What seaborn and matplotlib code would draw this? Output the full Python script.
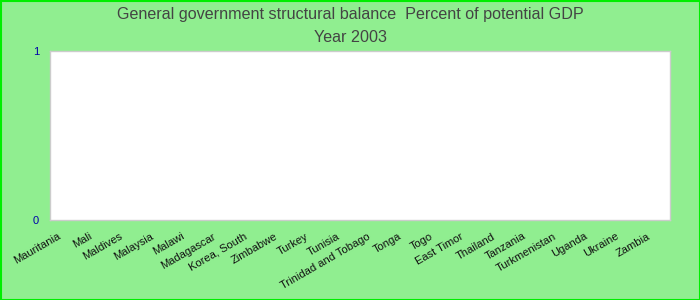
import matplotlib
matplotlib.use("Agg")
import matplotlib.pyplot as plt
import matplotlib.transforms as mtransforms
import seaborn as sns
import pandas as pd

countries = ["Mauritania", "Mali", "Maldives", "Malaysia", "Malawi", "Madagascar",
             "Korea, South", "Zimbabwe", "Turkey", "Tunisia", "Trinidad and Tobago",
             "Tonga", "Togo", "East Timor", "Thailand", "Tanzania", "Turkmenistan",
             "Uganda", "Ukraine", "Zambia"]
values = [0, 0, 0, 0, 0, 0, 0, 0, 0, 0, 0, 0, 0, 0, 0, 0, 0, 0, 0, 0]
y_ticks = [0, 1]

sns.set_theme(style="white")
plt.rcParams['font.family'] = ['Liberation Sans', 'DejaVu Sans']

df = pd.DataFrame({"country": countries, "value": values})

fig = plt.figure(figsize=(7, 3), dpi=100, facecolor="#90EE90")
ax = fig.add_axes([50/700, 1 - 220/300, 620/700, 169/300])
ax.set_facecolor("white")

sns.barplot(data=df, x="country", y="value", ax=ax, color="#4572A7")

ax.set_ylim(0, 1)
ax.set_yticks(y_ticks)
ax.set_yticklabels([str(t) for t in y_ticks], color="#0000AA", fontsize=8)
ax.set_xlabel("")
ax.set_ylabel("")
ax.set_xlim(-0.5, len(countries) - 0.5)
for s in ax.spines.values():
    s.set_color("#cccccc")
    s.set_linewidth(1)

ax.tick_params(axis="x", length=0, pad=8)
ax.tick_params(axis="y", length=0, pad=8)
offset = mtransforms.ScaledTranslation(-8/100, 0, fig.dpi_scale_trans)
for lbl in ax.get_xticklabels():
    lbl.set_rotation(30)
    lbl.set_ha("right")
    lbl.set_va("top")
    lbl.set_rotation_mode("anchor")
    lbl.set_fontsize(8)
    lbl.set_color("#111111")
    lbl.set_transform(lbl.get_transform() + offset)

fig.text(0.5, 1 - 14/300, "General government structural balance  Percent of potential GDP",
         ha="center", va="center", fontsize=11.6, color="#444444")
fig.text(0.5, 1 - 37/300, "Year 2003", ha="center", va="center", fontsize=11.6, color="#444444")

border = plt.Rectangle((0.5/700, 0.5/300), 699/700, 299/300, transform=fig.transFigure,
                       fill=False, edgecolor="#00ee00", linewidth=1.5)
fig.patches.append(border)

fig.savefig("out.png", dpi=100, facecolor=fig.get_facecolor())
